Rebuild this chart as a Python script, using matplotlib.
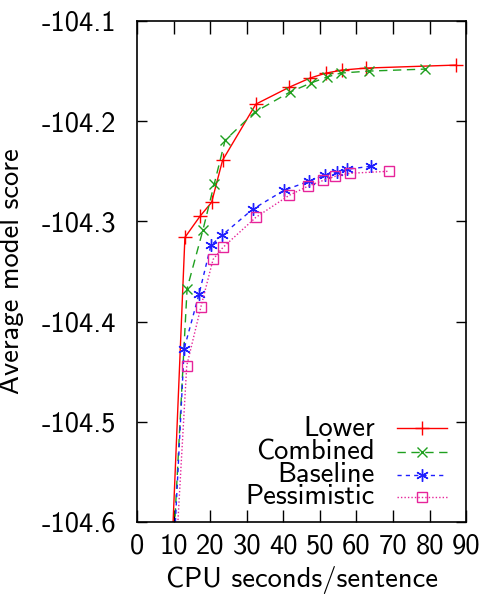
import matplotlib.pyplot as plt
from matplotlib.lines import Line2D

plt.rcParams['font.family'] = ['cmss10', 'DejaVu Sans']
plt.rcParams['axes.unicode_minus'] = False
plt.rcParams['mathtext.fontset'] = 'cm'

# Values; the first point of each series lies below the plotted range
lower_x = [9.3, 13.1, 17.2, 20.4, 23.4, 32.5, 41.7, 47.3, 51.7, 56.1, 62.6, 87.3]
lower_y = [-104.65, -104.316, -104.295, -104.281, -104.239, -104.183, -104.166,
           -104.157, -104.152, -104.149, -104.147, -104.144]

combined_x = [9.6, 13.7, 18.0, 21.1, 24.1, 32.2, 41.8, 47.5, 51.9, 55.7, 63.5, 78.8]
combined_y = [-104.65, -104.367, -104.309, -104.263, -104.219, -104.191, -104.171,
              -104.162, -104.156, -104.152, -104.150, -104.148]

baseline_x = [9.8, 12.9, 17.0, 20.2, 23.2, 31.6, 40.2, 47.0, 51.3, 54.6, 57.5, 63.9]
baseline_y = [-104.65, -104.427, -104.372, -104.324, -104.314, -104.288, -104.269,
              -104.260, -104.254, -104.251, -104.248, -104.245]

pess_x = [10.4, 13.6, 17.5, 20.8, 23.5, 32.5, 41.6, 46.7, 51.0, 54.2, 58.3, 68.8]
pess_y = [-104.65, -104.444, -104.385, -104.338, -104.326, -104.296, -104.274,
          -104.265, -104.259, -104.255, -104.252, -104.250]

labels = ['Lower', 'Combined', 'Baseline', 'Pessimistic']
colors = ['#ff0000', '#1fa01f', '#1f1fff', '#e6249a']
markers = ['+', 'x', (6, 2, 0), 's']
sizes = [10, 7, 9, 7]
styles = ['-', (0, (6, 4)), (0, (3, 3)), (0, (1, 1.5))]

xticks = list(range(0, 91, 10))
yticks = [-104.6, -104.5, -104.4, -104.3, -104.2, -104.1]
FS = 20.5

fig = plt.figure(figsize=(4.85, 5.96), dpi=100)
ax = fig.add_axes([0.2825, 0.1242, 0.6785, 0.8406])

series = [(lower_x, lower_y), (combined_x, combined_y),
          (baseline_x, baseline_y), (pess_x, pess_y)]
for (xs, ys), c, m, ms, ls in zip(series, colors, markers, sizes, styles):
    mfc = 'none' if m == 's' else c
    ax.plot(xs, ys, color=c, linestyle=ls, linewidth=1.0, marker=m,
            markersize=ms, markerfacecolor=mfc, markeredgecolor=c,
            markeredgewidth=1.0)

ax.set_xlim(0, 90)
ax.set_ylim(-104.6, -104.1)
ax.set_xticks(xticks)
ax.set_xticklabels([str(t) for t in xticks])
ax.set_yticks(yticks)
ax.set_yticklabels(['%.1f' % t for t in yticks])
ax.tick_params(direction='in', top=True, right=True, labelsize=FS,
               length=9, width=1.0)
ax.tick_params(axis='x', pad=8)
ax.tick_params(axis='y', length=7, pad=15)
for s in ax.spines.values():
    s.set_linewidth(1.2)

ax.set_xlabel('CPU seconds/sentence', fontsize=FS)
ax.set_ylabel('Average model score', fontsize=FS)
ax.xaxis.set_label_coords(0.5, -0.088)
ax.yaxis.set_label_coords(-0.343, 0.5)

# gnuplot-style key: right-aligned text, sample line to the right
key_y = [428, 452, 475, 497]
for lab, c, m, ms, ls, py in zip(labels, colors, markers, sizes, styles, key_y):
    yf = 1 - py / 596.0
    fig.text(375 / 485.0, yf, lab, ha='right', va='center', fontsize=FS)
    mfc = 'none' if m == 's' else c
    fig.add_artist(Line2D([397 / 485.0, 447 / 485.0], [yf, yf], color=c,
                          linestyle=ls, linewidth=1.0))
    fig.add_artist(Line2D([422 / 485.0], [yf], color=c, marker=m,
                          markersize=ms, markerfacecolor=mfc,
                          markeredgecolor=c, markeredgewidth=1.0))

fig.savefig('out.png', dpi=100)
